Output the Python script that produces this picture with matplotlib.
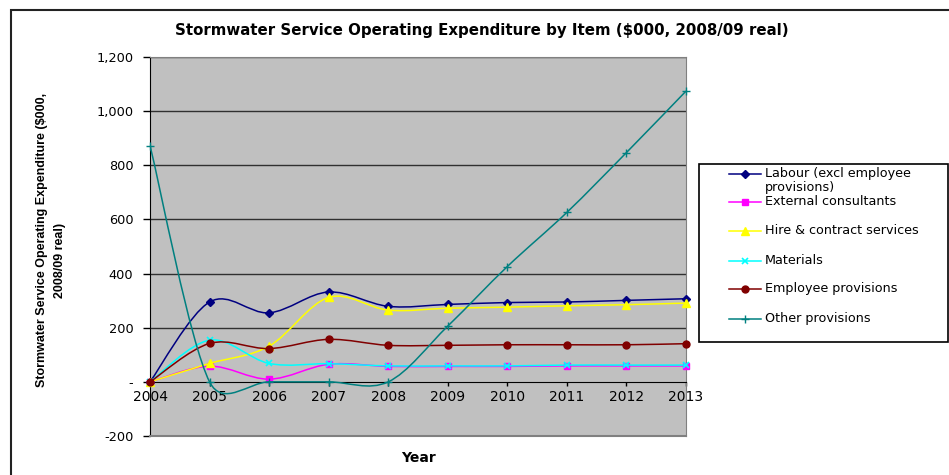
#!/usr/bin/env python3
"""Stormwater service operating expenditure by item, 2004-2013 ($000, 2008/09 real)."""

import numpy as np
import matplotlib

matplotlib.use("Agg")
import matplotlib.pyplot as plt
from matplotlib.lines import Line2D
from matplotlib.patches import PathPatch, Rectangle
from matplotlib.path import Path

years = [2004, 2005, 2006, 2007, 2008, 2009, 2010, 2011, 2012, 2013]

labour = [0, 295, 255, 332, 279, 286, 293, 295, 301, 307]
external_consultants = [0, 58, 10, 65, 57, 57, 57, 59, 59, 59]
hire_contract = [0, 68, 132, 312, 265, 272, 276, 281, 285, 291]
materials = [0, 154, 68, 67, 59, 59, 59, 62, 62, 62]
employee_provisions = [0, 142, 123, 157, 135, 135, 137, 137, 137, 141]
other_provisions = [873, 0, 0, 0, 0, 206, 426, 626, 847, 1074]

series_labels = [
    "Labour (excl employee\nprovisions)",
    "External consultants",
    "Hire & contract services",
    "Materials",
    "Employee provisions",
    "Other provisions",
]
y_ticks = [-200, 0, 200, 400, 600, 800, 1000, 1200]
y_tick_labels = ["-200", "-", "200", "400", "600", "800", "1,000", "1,200"]

W, H = 949, 475
FONT = ["DejaVu Sans"]

styles = [
    dict(color="#000080", marker="D", ms=4, mfc="#000080", mec="#000080"),
    dict(color="#FF00FF", marker="s", ms=4.5, mfc="#FF00FF", mec="#FF00FF"),
    dict(color="#FFFF00", marker="^", ms=6, mfc="#FFFF00", mec="#FFFF00"),
    dict(color="#00FFFF", marker="x", ms=5, mfc="#00FFFF", mec="#00FFFF", mew=1.2),
    dict(color="#800000", marker="o", ms=5, mfc="#800000", mec="#800000"),
    dict(color="#008080", marker="+", ms=6, mfc="#008080", mec="#008080", mew=1),
]


def fx(px):
    return px / W


def fy(py):
    return 1 - py / H


def smooth_path(ax, xs, ys):
    """Bezier path through the points, spreadsheet-style smoothing in screen space."""
    pts = ax.transData.transform(np.column_stack([xs, ys]))
    n = len(pts)
    verts = [pts[0]]
    codes = [Path.MOVETO]
    for i in range(n - 1):
        p0 = pts[max(i - 1, 0)]
        p1 = pts[i]
        p2 = pts[i + 1]
        p3 = pts[min(i + 2, n - 1)]
        d12 = np.hypot(*(p2 - p1))
        d02 = np.hypot(*(p2 - p0))
        d13 = np.hypot(*(p3 - p1))
        f1 = 1 / 6 if d02 / 6 < d12 / 2 else d12 / d02 / 2
        f2 = 1 / 6 if d13 / 6 < d12 / 2 else d12 / d13 / 2
        c1 = p1 + f1 * (p2 - p0)
        c2 = p2 - f2 * (p3 - p1)
        verts += [c1, c2, p2]
        codes += [Path.CURVE4] * 3
    verts = ax.transData.inverted().transform(np.array(verts))
    return Path(verts, codes)


fig = plt.figure(figsize=(W / 100, H / 100), dpi=100)
fig.patch.set_facecolor("white")

# chart-area frame
fig.patches.append(Rectangle((fx(11), fy(H + 5)), fx(W + 5 - 11), fy(10) - fy(H + 5),
                             transform=fig.transFigure, fill=False,
                             edgecolor="#222222", linewidth=1.5))

ax = fig.add_axes([fx(150), fy(436), fx(686 - 150), fy(57) - fy(436)])
ax.set_facecolor("#C0C0C0")
ax.set_xlim(2004, 2013)
ax.set_ylim(-200, 1200)

ax.set_yticks(y_ticks)
ax.set_yticklabels(y_tick_labels, family=FONT, fontsize=9.3)
ax.set_xticks(years)
ax.set_xticklabels([str(y) for y in years], family=FONT, fontsize=9.3)
ax.tick_params(axis="y", direction="out", length=5, width=1, color="black", pad=7)
ax.tick_params(axis="x", direction="out", length=3, width=1, color="black", pad=3)

for v in y_ticks[2:]:
    ax.axhline(v, color="#303030", linewidth=1, zorder=1)

ax.spines["bottom"].set_position(("data", 0))
ax.spines["bottom"].set_color("black")
ax.spines["left"].set_color("black")
ax.spines["top"].set_color("#808080")
ax.spines["right"].set_color("#808080")
ax.plot([2004, 2013], [-200, -200], color="#808080", lw=1.5, clip_on=False, zorder=3)

all_series = [labour, external_consultants, hire_contract, materials,
              employee_provisions, other_provisions]
fig.canvas.draw()
for k, (vals, st) in enumerate(zip(all_series, styles)):
    path = smooth_path(ax, years, vals)
    ax.add_patch(PathPatch(path, fill=False, edgecolor=st["color"], lw=1.1, zorder=4 + k))
    ax.plot(years, vals, linestyle="none", marker=st["marker"], ms=st["ms"],
            mfc=st["mfc"], mec=st["mec"], mew=st.get("mew", 1), zorder=4 + k,
            clip_on=False)

fig.text(fx(482), fy(30), "Stormwater Service Operating Expenditure by Item ($000, 2008/09 real)",
         ha="center", va="center", fontsize=10.8, fontweight="bold", family=FONT)
fig.text(fx(418), fy(458), "Year", ha="center", va="center", fontsize=10,
         fontweight="bold", family=FONT)
ylab_font = ["Liberation Sans", "DejaVu Sans"]
fig.text(fx(42), fy(240), "Stormwater Service Operating Expenditure ($000,",
         rotation=90, ha="center", va="center", fontsize=9, fontweight="bold",
         family=ylab_font)
fig.text(fx(60), fy(260), "2008/09 real)", rotation=90, ha="center", va="center",
         fontsize=9, fontweight="bold", family=ylab_font)

# legend box
fig.patches.append(Rectangle((fx(699), fy(342)), fx(948 - 699), fy(164) - fy(342),
                             transform=fig.transFigure, fill=True, facecolor="white",
                             edgecolor="black", linewidth=1.2))
row_y = [174, 202, 231, 261, 289, 319]
for label, st, ry in zip(series_labels, styles, row_y):
    fig.lines.append(Line2D([fx(729), fx(761)], [fy(ry), fy(ry)], transform=fig.transFigure,
                            color=st["color"], lw=1.1))
    fig.lines.append(Line2D([fx(745)], [fy(ry)], transform=fig.transFigure,
                            linestyle="none", marker=st["marker"], ms=st["ms"],
                            mfc=st["mfc"], mec=st["mec"], mew=st.get("mew", 1)))
    fig.text(fx(765), fy(ry - 7), label, ha="left", va="top", fontsize=9.2,
             family=FONT, linespacing=1.1)

fig.savefig("out.png", dpi=100)
